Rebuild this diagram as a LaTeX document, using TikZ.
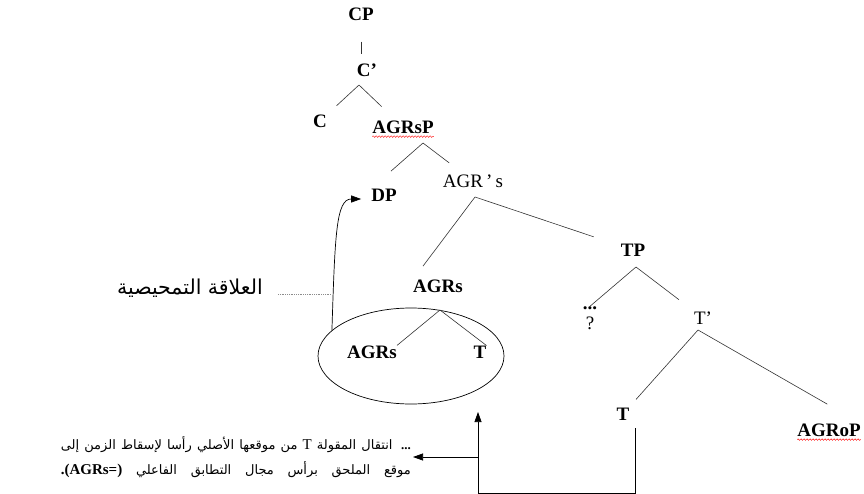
\documentclass[tikz,border=0pt]{standalone}
\usepackage{fontspec}
\setmainfont{Liberation Serif}
\newfontfamily\arabicfont[Script=Arabic]{DejaVu Sans}
\TeXXeTstate=1
\usetikzlibrary{arrows.meta,shapes.geometric,decorations.pathmorphing}

\begin{document}
\begin{tikzpicture}
[ x=1pt, y=-1pt,
		cat/.style={font=\fontsize{19}{22}\selectfont\bfseries,inner sep=0pt},
		bar/.style={font=\fontsize{19}{22}\selectfont,inner sep=0pt},
		gloss/.style={font=\fontsize{13}{25}\selectfont\arabicfont,inner sep=0pt},
		branch/.style={line width=0.6pt,black!80},
		dotLine/.style={densely dotted,line width=0.8pt,black!45},
		arrowOut/.style={-{Triangle[length=10pt,width=7pt]},line width=0.7pt},
		spell/.style={red,line width=0.4pt,decorate,decoration={snake,amplitude=0.8pt,segment length=3pt}}]

	\useasboundingbox (0,0) rectangle (864,494);

	\node[cat] (cp) at (361,14) {CP};
	\node[cat] (cbar) at (367,70) {C'};
	\node[cat] (c) at (320,121) {C};
	\node[cat] (agrsp) at (403,127) {AGRsP};
	\node[cat] (dp) at (384,195) {DP};
	\node[bar] (agrsbar) at (473,181) {AGR\,'\,s};
	\node[cat] (tp) at (633,250) {TP};
	\node[cat] (agrs) at (438,286) {AGRs};
	\node[bar,align=center] (spec) at (590,318) {\textbf{...}\\[-2pt]?};
	\node[bar] (tbar) at (703,318) {T'};
	\node[cat] (agrslow) at (372,352) {AGRs};
	\node[cat] (tx) at (480,352) {T};
	\node[cat] (t) at (623,414) {T};
	\node[cat] (agrop) at (829,430) {AGRoP};
	\node[draw,ellipse,minimum width=186pt,minimum height=96pt,inner sep=0pt,line width=0.7pt] (domain) at (411,356) {};

	\node[gloss,font=\fontsize{20.5}{22}\selectfont\arabicfont,anchor=base east] (relation) at (263,294) {\beginR العلاقة التمحيصية\endR};
	\node[gloss,anchor=east,align=right] (note) at (411,457)
		{\hbox to 350pt{\beginR{\rmfamily\bfseries ...} انتقال المقولة {\rmfamily\fontsize{15}{25}\selectfont T} من موقعها الأصلي رأسا لإسقاط الزمن إلى\endR}\\
		 \hbox to 350pt{\beginR موقع الملحق برأس مجال التطابق الفاعلي \beginL{\rmfamily\bfseries\fontsize{15}{25}\selectfont .(AGRs=)}\endL\endR}};

	% forks under the phrases
	\coordinate (cbarFork) at (359,85);
	\coordinate (agrspFork) at (423,143);
	\coordinate (agrsbarFork) at (475,197);
	\coordinate (tpFork) at (636,267);
	\coordinate (tbarFork) at (698,330);
	\coordinate (agrsFork) at (440,310);
	\coordinate (hook) at (331,294);
	\coordinate (landing) at (478,412);
	\coordinate (floor) at (478,493);

	\draw[branch,shorten <=21pt,shorten >=9pt] (cp.south) -- (cp.south |- cbar.north);
	\draw[branch,shorten >=13pt] (cbarFork) -- (c);
	\draw[branch,shorten >=20pt] (cbarFork) -- (agrsp);
	\draw[branch,shorten >=26.5pt] (agrspFork) -- (dp.north west);
	\draw[branch,shorten >=19pt] (agrspFork) -- (agrsbar);
	\draw[branch,shorten >=16.6pt] (agrsbarFork) -- (agrs.north west);
	\draw[branch,shorten >=28.4pt] (agrsbarFork) -- (tp);
	\draw[branch] (tpFork) -- (spec.north);
	\draw[branch,shorten >=19.4pt] (tpFork) -- (tbar);
	\draw[branch,shorten >=11pt] (tbarFork) -- (t);
	\draw[branch,shorten >=38.7pt] (tbarFork) -- (agrop.north east);
	\draw[branch] (agrsFork) -- (agrslow.north east);
	\draw[branch] (agrsFork) -- (tx.north east);

	\draw[spell] ([yshift=-3pt]agrsp.south west) -- ([yshift=-3pt]agrsp.south east);
	\draw[spell] ([yshift=-3pt]agrop.south west) -- ([yshift=-3pt]agrop.south east);

	\draw[arrowOut] (domain.162) .. controls (335,235) and (336,199) .. ([xshift=-10pt,yshift=-4pt]dp.west);
	\draw[dotLine,shorten <=15pt] (relation.base east) -- (hook);
	\draw[arrowOut] ([xshift=6pt,yshift=-8pt]t.south east) |- (floor) -- (landing);
	\draw[arrowOut] (landing |- note.east) -- ([xshift=2pt]note.east);
\end{tikzpicture}
\end{document}
